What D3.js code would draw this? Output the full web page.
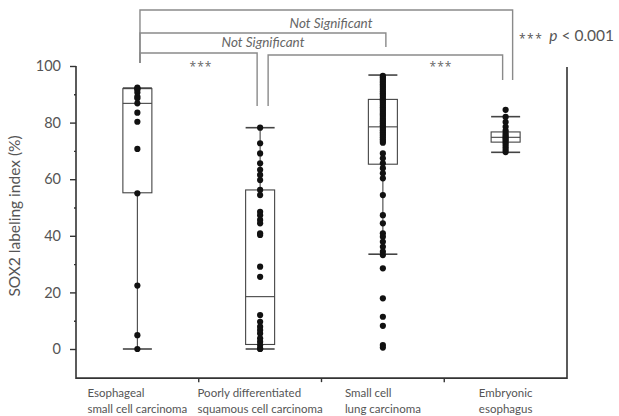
<!DOCTYPE html>
<html>
<head>
<meta charset="utf-8">
<script src="https://cdn.jsdelivr.net/npm/d3@7"></script>
<style>
  body { margin: 0; background: #fff; }
  text { font-family: Lato, "Open Sans", sans-serif; }
  .stars { font-family: "Open Sans", sans-serif; }
</style>
</head>
<body>
<svg id="chart" width="619" height="416"></svg>
<script>
// category labels (two lines each)
const categories = [
  ['Esophageal', 'small cell carcinoma'],
  ['Poorly differentiated', 'squamous cell carcinoma'],
  ['Small cell', 'lung carcinoma'],
  ['Embryonic', 'esophagus']
];

// individual labeling indexes (%)
const esccValues = [92.4, 92, 91.6, 90.6, 89.2, 88.6, 86.8, 83.5, 80.3, 70.7, 55, 22.4, 4.9, 0];
const pdsccValues = [78.2, 72.7, 69.1, 65.6, 63.3, 61.5, 59.7, 56.2, 54.4, 48.5, 47.3, 45.6, 44.4,
  40.9, 40.3, 29.1, 25.5, 12, 9.6, 7.9, 6.7, 5.5, 3.8, 2.6, 1.4, 0.2, 0];
const sclcValues = [96.5, 96, 95.4, 94.8, 94.2, 93.5, 92.9, 92.3, 91.7, 91, 90.4, 89.8, 89.2, 88.5,
  87.9, 87.3, 86.7, 86, 85.4, 84.8, 84.2, 83.5, 82.9, 82.3, 81.6, 81, 80.4, 79.8, 79.1, 78.5, 77.9,
  77.3, 76.6, 76, 75.4, 74.8, 74.1, 73.5, 72.9, 69.1, 67.4, 65.6, 63.9, 62.1, 60.3, 54.4, 47.3, 44.4,
  40.9, 39.7, 37.9, 36.1, 34.4, 33.2, 28.5, 17.9, 11.4, 8.2, 1.4, 0.5];
const embryoValues = [84.5, 82, 80.2, 78.5, 77.2, 76.3, 75.6, 75, 74.4, 73.8, 73, 72.2, 71.3, 70.4, 69.6];
const groups = [esccValues, pdsccValues, sclcValues, embryoValues];

// box summary (%)
const whiskerLow = [0, 0, 33.5, 69.5];
const q1 = [55.2, 1.6, 65.3, 73.1];
const medians = [86.8, 18.5, 78.5, 74.8];
const q3 = [92, 56.2, 88.2, 76.7];
const whiskerHigh = [92.2, 78.2, 96.8, 82.1];

const yTicks = [0, 20, 40, 60, 80, 100];
const yMinorTicks = [10, 30, 50, 70, 90];
const axisFloor = -10.3;

// significance brackets: categories joined and label
const brackets = [
  {from: 0, to: 3, label: 'Not Significant'},
  {from: 0, to: 2, label: 'Not Significant'},
  {from: 0, to: 1, label: '***'},
  {from: 1, to: 3, label: '***'}
];

const svg = d3.select('#chart');
const x = d3.scaleBand().domain(d3.range(categories.length)).range([76, 567]);
const y = d3.scaleLinear().domain([0, 100]).range([349, 66]);
const cx = i => x(i) + x.bandwidth() / 2;
const boxW = 29;

// frame (left, bottom, right)
svg.append('path')
  .attr('d', `M${x.range()[0]},${y(100)} V${y(axisFloor)} H${x.range()[1]} V${y(100) + 1}`)
  .attr('fill', 'none').attr('stroke', '#333').attr('stroke-width', 1.6);

// y axis ticks
const yAxis = svg.append('g').attr('transform', `translate(${x.range()[0]},0)`)
  .call(d3.axisLeft(y).tickValues(yTicks).tickSize(6).tickPadding(9));
yAxis.select('.domain').remove();
yAxis.selectAll('line').attr('stroke', '#333').attr('stroke-width', 1.4);
yAxis.selectAll('text').attr('fill', '#555').style('font-size', '14.5px').style('font-family', 'Lato, sans-serif');

const yMinor = svg.append('g').attr('transform', `translate(${x.range()[0]},0)`)
  .call(d3.axisLeft(y).tickValues(yMinorTicks).tickSize(2).tickFormat(''));
yMinor.select('.domain').remove();
yMinor.selectAll('line').attr('stroke', '#333').attr('stroke-width', 1.4);

svg.append('text')
  .attr('transform', `translate(20,216) rotate(-90)`)
  .attr('text-anchor', 'middle')
  .attr('fill', '#555').style('font-size', '15.5px')
  .text('SOX2 labeling index (%)');

// x ticks at category boundaries
svg.append('g').selectAll('line')
  .data(d3.range(1, categories.length))
  .join('line')
  .attr('x1', i => x(i)).attr('x2', i => x(i))
  .attr('y1', y(axisFloor)).attr('y2', y(axisFloor) + 4)
  .attr('stroke', '#333').attr('stroke-width', 1.4);

// x labels: left-aligned block centered under each category
const xl = svg.append('g').selectAll('text')
  .data(categories)
  .join('text')
  .attr('fill', '#555').style('font-size', '11.5px');
xl.each(function(lines, i) {
  const t = d3.select(this);
  lines.forEach((ln, j) => {
    t.append('tspan').attr('y', 397 + j * 16).text(ln);
  });
  const w = d3.max(t.selectAll('tspan').nodes(), n => n.getComputedTextLength());
  t.selectAll('tspan').attr('x', cx(i) - w / 2);
});

// boxes
const boxes = svg.append('g').selectAll('g')
  .data(d3.range(categories.length))
  .join('g')
  .attr('stroke', '#444').attr('stroke-width', 1.1).attr('fill', 'none');
boxes.append('rect')
  .attr('x', i => cx(i) - boxW / 2).attr('width', boxW)
  .attr('y', i => y(q3[i])).attr('height', i => y(q1[i]) - y(q3[i]))
  .attr('fill', '#fff');
boxes.append('line')
  .attr('x1', i => cx(i) - boxW / 2).attr('x2', i => cx(i) + boxW / 2)
  .attr('y1', i => y(medians[i])).attr('y2', i => y(medians[i]));
[whiskerLow, whiskerHigh].forEach(arr => {
  boxes.append('line')
    .attr('x1', i => cx(i) - boxW / 2).attr('x2', i => cx(i) + boxW / 2)
    .attr('y1', i => y(arr[i])).attr('y2', i => y(arr[i]))
    .attr('stroke-width', 1.6);
});
boxes.append('line')
  .attr('x1', cx).attr('x2', cx)
  .attr('y1', i => y(q1[i])).attr('y2', i => y(whiskerLow[i]));
boxes.append('line')
  .attr('x1', cx).attr('x2', cx)
  .attr('y1', i => y(q3[i])).attr('y2', i => y(whiskerHigh[i]));

// dots
svg.append('g').selectAll('g')
  .data(groups)
  .join('g')
  .selectAll('circle')
  .data((vals, i) => vals.map(v => ({i, v})))
  .join('circle')
  .attr('cx', d => cx(d.i))
  .attr('cy', d => y(d.v))
  .attr('r', 3.1)
  .attr('fill', '#111');

// significance brackets
const bStyle = [
  {top: 10, leftDrop: 63, rightDrop: 80, dxL: 2.6, dxR: 7, tx: 331, ty: 28},
  {top: 33, leftDrop: 63, rightDrop: 47, dxL: 2.6, dxR: 3, tx: 263, ty: 47},
  {top: 53, leftDrop: 63, rightDrop: 106, dxL: 2.6, dxR: -3, tx: 201, ty: 71},
  {top: 55, leftDrop: 106, rightDrop: 80, dxL: 8, dxR: -3, tx: 441, ty: 71}
];
const br = svg.append('g').selectAll('g')
  .data(brackets)
  .join('g');
br.append('path')
  .attr('d', (b, k) => {
    const s = bStyle[k];
    return `M${cx(b.from) + s.dxL},${s.leftDrop} V${s.top} H${cx(b.to) + s.dxR} V${s.rightDrop}`;
  })
  .attr('fill', 'none').attr('stroke', '#8a8a8a').attr('stroke-width', 1.4);
br.append('text')
  .attr('class', b => b.label === '***' ? 'stars' : null)
  .attr('x', (b, k) => bStyle[k].tx)
  .attr('y', (b, k) => bStyle[k].ty)
  .attr('text-anchor', 'middle')
  .attr('fill', '#666')
  .style('font-size', b => b.label === '***' ? '12px' : '13.5px')
  .style('font-style', b => b.label === '***' ? 'normal' : 'italic')
  .style('letter-spacing', b => b.label === '***' ? '1px' : null)
  .text(b => b.label);

// p-value note
const note = svg.append('text').attr('x', 519).attr('y', 41).attr('fill', '#555');
note.append('tspan').attr('class', 'stars').style('font-size', '12px').style('letter-spacing', '1.5px').attr('dy', 2).text('***');
note.append('tspan').style('font-size', '15.5px').style('font-style', 'italic').attr('dx', 6).attr('dy', -2).text('p');
note.append('tspan').style('font-size', '15.5px').text(' < 0.001');
</script>
</body>
</html>
